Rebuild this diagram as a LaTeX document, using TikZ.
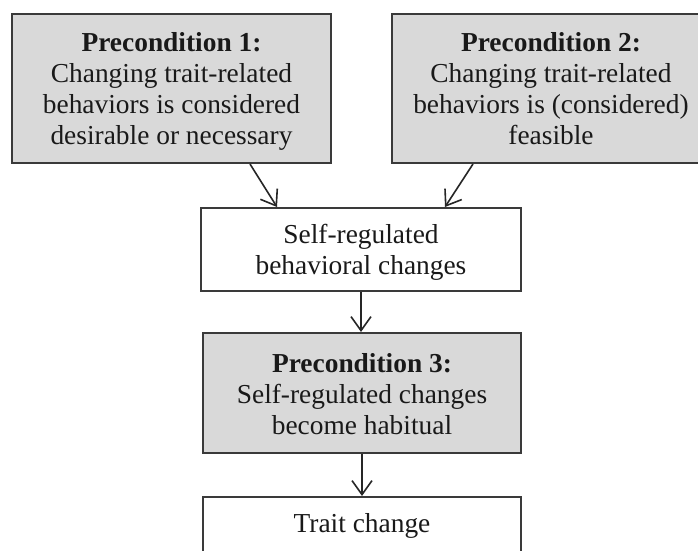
\documentclass[tikz,border=0pt]{standalone}
\usepackage{fontspec}
\setmainfont{Liberation Serif}
\usetikzlibrary{arrows.meta}
\definecolor{boxfill}{HTML}{D9D9D9}
\definecolor{boxline}{HTML}{3A3A3A}
\tikzset{
  flowbox/.style={draw=boxline, line width=1pt, inner sep=0pt},
  graybox/.style={flowbox, fill=boxfill},
  whitebox/.style={flowbox, fill=white},
  boxtext/.style={align=center, inner sep=0pt,
    font=\fontsize{13.7}{15.5}\selectfont, text=black!90},
  flowarrow/.style={draw=black!85, line width=0.8pt, -{Straight Barb[length=7pt,width=10pt,line width=0.8pt]}}
}
\begin{document}
\begin{tikzpicture}[x=0.5pt,y=-0.5pt]
\useasboundingbox (0,0) rectangle (698,551);
\clip (0,0) rectangle (698,551);
\fill[white] (0,0) rectangle (698,551);
\node[graybox, minimum width=159.5pt, minimum height=74.5pt] (b1) at (171.5,88.5) {};
\node[boxtext] (b1t) at ([yshift=-1.5pt]b1.center)
  {\textbf{Precondition 1:}\\Changing trait-related\\behaviors is considered\\desirable or necessary};
\node[graybox, minimum width=159pt, minimum height=74.5pt] (b2) at (551,88.5) {};
\node[boxtext] (b2t) at (b2.center)
  {\textbf{Precondition 2:}\\Changing trait-related\\behaviors is (considered)\\feasible};
\node[whitebox, minimum width=160pt, minimum height=41.5pt] (b3) at (361,249.5) {};
\node[boxtext] (b3t) at ([yshift=-1.5pt]b3.center)
  {Self-regulated\\behavioral changes};
\node[graybox, minimum width=159pt, minimum height=60pt] (b4) at (362,393) {};
\node[boxtext] (b4t) at ([yshift=-0.5pt]b4.center)
  {\textbf{Precondition 3:}\\Self-regulated changes\\become habitual};
\node[whitebox, minimum width=159pt, minimum height=29pt] (b5) at (362,526) {};
\node[boxtext] (b5t) at (b5.center) {Trait change};
\draw[flowarrow] ([xshift=39.25pt]b1.south) -- ([xshift=-42pt]b3.north);
\draw[flowarrow] ([xshift=-39pt]b2.south) -- ([xshift=42pt]b3.north);
\draw[flowarrow] (b3.south) -- (b3.south |- b4.north);
\draw[flowarrow] (b4.south) -- (b4.south |- b5.north);
\end{tikzpicture}
\end{document}
